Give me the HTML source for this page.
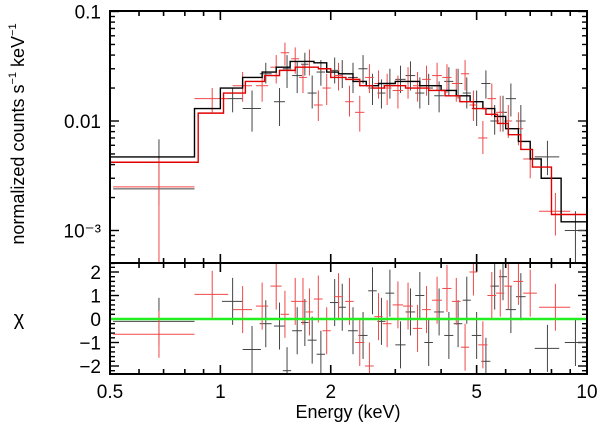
<!DOCTYPE html>
<html><head><meta charset="utf-8"><style>
body{margin:0;background:#fff}
svg{display:block;font-family:"Liberation Sans",sans-serif}
</style></head><body>
<svg id="c" width="600" height="425" xmlns="http://www.w3.org/2000/svg"></svg>
<script>
// ---- data ----
const xTicks=[0.5,1,2,5,10];
const yTicksTop=["0.1","0.01","10⁻³"];
const resTicks=[2,1,0,-1,-2];
// model steps: bin edges and values
const blackEdges=[0.5,0.85,1.0,1.15,1.3,1.42,1.55,1.8,1.95,2.1,2.3,2.5,2.7,3.0,3.5,4.0,4.4,4.8,5.2,5.6,6.0,6.5,7.0,7.5,8.5,10];
const blackModel=[0.0047,0.013,0.020,0.025,0.028,0.031,0.035,0.034,0.028,0.027,0.023,0.021,0.022,0.023,0.021,0.019,0.017,0.015,0.013,0.011,0.0085,0.0065,0.0045,0.0030,0.0012];
const redEdges=[0.5,0.87,1.02,1.17,1.32,1.45,1.6,1.85,2.0,2.2,2.4,2.6,2.8,3.2,3.7,4.1,4.5,4.9,5.3,5.7,6.1,6.6,7.1,8.0,10];
const redModel=[0.0042,0.0118,0.018,0.023,0.026,0.029,0.031,0.030,0.025,0.024,0.021,0.020,0.021,0.020,0.019,0.017,0.015,0.013,0.0115,0.0095,0.0075,0.0055,0.0038,0.0014];
// data points
const blackE=[0.68,1.08,1.22,1.33,1.45,1.52,1.62,1.7,1.78,1.88,2.05,2.15,2.3,2.45,2.6,2.75,2.9,3.1,3.3,3.5,3.7,3.95,4.2,4.45,4.7,5.0,5.3,5.6,5.9,6.2,6.6,7.8,9.3];
const blackHW=[0.17,0.07,0.07,0.05,0.05,0.04,0.05,0.04,0.05,0.05,0.06,0.05,0.07,0.07,0.07,0.07,0.08,0.1,0.1,0.1,0.1,0.12,0.12,0.12,0.12,0.15,0.15,0.15,0.15,0.2,0.2,0.6,0.6];
const blackV=[0.0024,0.016,0.013,0.027,0.015,0.030,0.026,0.033,0.018,0.028,0.029,0.027,0.025,0.030,0.020,0.018,0.022,0.024,0.026,0.018,0.020,0.017,0.023,0.022,0.018,0.013,0.022,0.010,0.012,0.016,0.010,0.0047,0.0010];
const blackLo=[0.0017,0.012,0.008,0.022,0.009,0.020,0.018,0.026,0.013,0.021,0.022,0.020,0.018,0.022,0.014,0.013,0.016,0.018,0.019,0.013,0.014,0.012,0.017,0.016,0.013,0.009,0.016,0.0075,0.008,0.011,0.0065,0.0032,0.0005];
const blackHi=[0.0068,0.020,0.019,0.034,0.020,0.040,0.035,0.042,0.026,0.036,0.038,0.036,0.034,0.040,0.027,0.024,0.030,0.032,0.035,0.025,0.027,0.023,0.031,0.030,0.025,0.019,0.029,0.014,0.017,0.022,0.014,0.0066,0.0015];
const redE=[0.68,0.95,1.15,1.3,1.42,1.5,1.6,1.68,1.75,1.85,1.95,2.1,2.25,2.4,2.55,2.7,2.85,3.05,3.25,3.45,3.65,3.9,4.15,4.4,4.65,4.9,5.2,5.5,5.8,6.1,6.5,7.0,8.2];
const redHW=[0.17,0.1,0.07,0.05,0.05,0.04,0.04,0.04,0.04,0.05,0.05,0.06,0.06,0.07,0.07,0.07,0.08,0.1,0.1,0.1,0.1,0.12,0.12,0.12,0.12,0.12,0.15,0.15,0.15,0.15,0.2,0.3,0.8];
const redV=[0.0025,0.016,0.021,0.021,0.031,0.042,0.037,0.025,0.035,0.014,0.020,0.026,0.015,0.012,0.025,0.022,0.020,0.019,0.023,0.021,0.024,0.026,0.025,0.022,0.027,0.014,0.007,0.016,0.012,0.010,0.0085,0.0045,0.0015];
const redLo=[0.0005,0.012,0.015,0.015,0.022,0.032,0.027,0.018,0.026,0.010,0.014,0.019,0.011,0.008,0.018,0.016,0.014,0.013,0.016,0.015,0.017,0.019,0.018,0.015,0.019,0.010,0.005,0.011,0.008,0.007,0.006,0.003,0.0009];
const redHi=[0.0045,0.020,0.028,0.028,0.040,0.052,0.047,0.033,0.045,0.019,0.027,0.034,0.021,0.017,0.033,0.029,0.027,0.026,0.031,0.028,0.032,0.034,0.033,0.030,0.036,0.019,0.010,0.022,0.017,0.014,0.012,0.006,0.0022];
// residuals
const blackRes=[-0.1,0.75,-1.3,-0.2,-0.3,-2.2,-0.5,-0.15,-0.9,-1.5,0.7,0.5,-0.5,-0.7,1.2,-0.1,1.1,-1.1,0.3,1.0,-1.0,0.3,-0.7,-0.2,0.8,-0.7,-1.8,1.4,1.8,0.4,0.95,-1.25,-1.0];
const redRes=[-0.65,1.05,0.4,0.55,1.4,0.2,0.75,0.75,0.3,0.85,-0.5,0.95,0.75,-1.0,-2.0,0.1,-0.2,0.6,0.55,-0.4,0.4,0.8,1.3,0.75,-1.2,2.0,-1.1,1.0,1.1,1.4,1.6,1.1,0.5];

// ---- axes ----
const X0=110,X1=587,T0=11,T1=263,B0=263,B1=374;
const lx=e=>X0+(Math.log10(e)-Math.log10(0.5))/(Math.log10(10)-Math.log10(0.5))*(X1-X0);
const ly=v=>121-(Math.log10(v)+2)*109.5;
const ry=v=>319-v*23.5;
const svg=document.getElementById('c');
const NS="http://www.w3.org/2000/svg";
function add(tag,attrs,parent){const el=document.createElementNS(NS,tag);for(const k in attrs)el.setAttribute(k,attrs[k]);(parent||svg).appendChild(el);return el;}

const gt=add('g',{});


const xminor=[0.6,0.7,0.8,0.9,1,2,3,4,5,6,7,8,9,10];
for(const e of xminor){const x=lx(e);const L=[1,2,5,10].includes(e)?9:5;
 [[T0,T0+L],[T1,T1-L],[T1,T1+L],[B1,B1-L]].forEach(p=>add('line',{x1:x,x2:x,y1:p[0],y2:p[1],stroke:'#000','stroke-width':1.6},gt));}
for(let d=-4;d<=-1;d++)for(let m=1;m<10;m++){const v=m*Math.pow(10,d);const y=ly(v);if(y<T0-0.5||y>T1+0.5)continue;const L=m==1?9:5;
 add('line',{x1:X0,x2:X0+L,y1:y,y2:y,stroke:'#000','stroke-width':1.4},gt);add('line',{x1:X1,x2:X1-L,y1:y,y2:y,stroke:'#000','stroke-width':1.4},gt);}
for(let v=-2.2;v<=2.21;v+=0.2){const y=ry(v);const major=Math.abs(v-Math.round(v))<0.01;const L=major?9:5;
 add('line',{x1:X0,x2:X0+L,y1:y,y2:y,stroke:'#000','stroke-width':1.4},gt);add('line',{x1:X1,x2:X1-L,y1:y,y2:y,stroke:'#000','stroke-width':1.4},gt);}

xTicks.forEach(e=>{const t=add('text',{x:lx(e),y:398,'font-size':19,'text-anchor':'middle'});t.textContent=e;
 
 });
const yVals=[0.1,0.01,0.001];
yTicksTop.forEach((s,i)=>{const t=add('text',{x:101,y:ly(yVals[i])+7,'font-size':19,'text-anchor':'end'});t.textContent=s;
 
 });
resTicks.forEach(v=>{const t=add('text',{x:101,y:ry(v)+7,'font-size':19,'text-anchor':'end'});t.textContent=(v<0?'−':'')+Math.abs(v);
 
 });
let t=add('text',{x:348,y:418,'font-size':18,'text-anchor':'middle'});t.textContent='Energy (keV)';


t=add('text',{x:0,y:0,'font-size':18,'text-anchor':'middle',transform:'translate(24,134) rotate(-90)'});t.innerHTML='normalized counts s<tspan font-size="11" dy="-8">−1</tspan><tspan dy="8"> keV</tspan><tspan font-size="11" dy="-8">−1</tspan>';


t=add('text',{x:19,y:325,'font-size':20,'text-anchor':'middle'});t.textContent='χ';



function points(E,HW,V,Lo,Hi,col,name){const g=add('g',{stroke:col,'stroke-width':1});
 
 
 E.forEach((e,i)=>{add('line',{x1:lx(e-HW[i]),x2:lx(e+HW[i]),y1:ly(V[i]),y2:ly(V[i])},g);
  add('line',{x1:lx(e),x2:lx(e),y1:Math.min(T1,ly(Lo[i])),y2:ly(Hi[i])},g);});}
points(blackE,blackHW,blackV,blackLo,blackHi,'#444','black-data');
points(redE,redHW,redV,redLo,redHi,'#f04848','red-data');
function model(Ed,M,col,name){let d='';M.forEach((v,i)=>{const y=ly(v);d+=(i?'L':'M')+lx(Ed[i])+','+y+'L'+lx(Ed[i+1])+','+y;});
 const p=add('path',{d:d,fill:'none',stroke:col,'stroke-width':1.4});
 
 }
model(blackEdges,blackModel,'#000','black-model');
model(redEdges,redModel,'#e00000','red-model');
function res(E,HW,R,col,name){const g=add('g',{stroke:col,'stroke-width':1});
 
 
 E.forEach((e,i)=>{const y=ry(R[i]);add('line',{x1:lx(e-HW[i]),x2:lx(e+HW[i]),y1:y,y2:y},g);
  add('line',{x1:lx(e),x2:lx(e),y1:Math.max(B0,ry(R[i]+1)),y2:Math.min(B1,ry(R[i]-1))},g);});}
res(blackE,blackHW,blackRes,'#444','black-residuals');
res(redE,redHW,redRes,'#f04848','red-residuals');
const z=add('line',{x1:X0,x2:X1,y1:ry(0),y2:ry(0),stroke:'#22ee22','stroke-width':2.5});


const f1=add('rect',{x:X0,y:T0,width:X1-X0,height:T1-T0,fill:'none',stroke:'#000','stroke-width':2});


const f2=add('rect',{x:X0,y:B0,width:X1-X0,height:B1-B0,fill:'none',stroke:'#000','stroke-width':2});


</script>
</body></html>
